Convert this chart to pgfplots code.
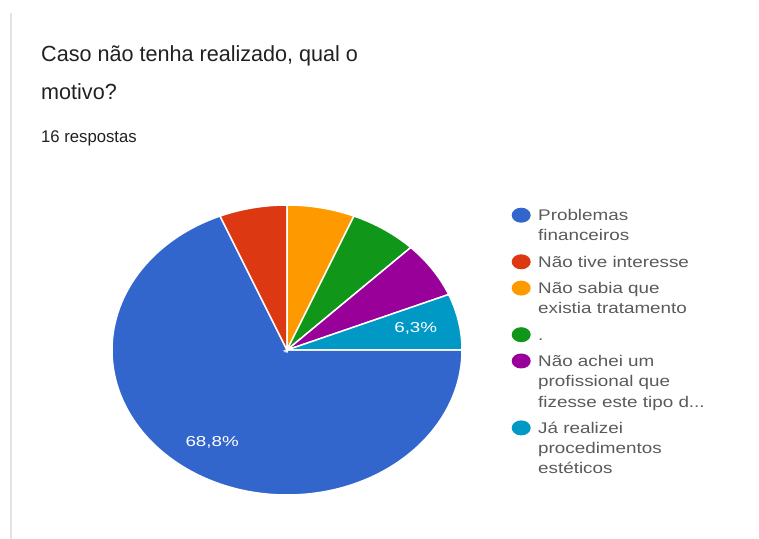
\documentclass[border=0pt]{standalone}
\usepackage{pgfplots}
\pgfplotsset{compat=1.18}
\usepackage{pgfplotstable}
\usepackage{fontspec}
\setmainfont{Liberation Sans}
\newfontfamily\titlefont[FakeStretch=0.985]{Liberation Sans}
\newfontfamily\legfont[FakeStretch=1.22]{Liberation Sans}
\newfontfamily\labfont[FakeStretch=1.3]{Liberation Sans}
\definecolor{pie0}{HTML}{3366CC}
\definecolor{pie1}{HTML}{DC3912}
\definecolor{pie2}{HTML}{FF9900}
\definecolor{pie3}{HTML}{109618}
\definecolor{pie4}{HTML}{990099}
\definecolor{pie5}{HTML}{0099C6}
\definecolor{titlegray}{HTML}{212121}
\definecolor{leggray}{HTML}{5A5A5A}
\definecolor{cardline}{HTML}{E3E3E3}
% first line of a legend entry / continuation line
\newcommand\lfirst[1]{\rule[-6bp]{0pt}{26.3bp}#1}
\newcommand\lnext[1]{\rule[-6bp]{0pt}{20.3bp}#1}
\newcommand\lsym[1]{\tikz[baseline=0pt]\fill[#1] (0bp,5.5bp) ellipse[x radius=9.5bp, y radius=7.5bp];}

% responses per option (16 in total)
\pgfplotstableread{
idx count
0 11
1 1
2 1
3 1
4 1
5 1
}\piedata

\begin{document}
\begin{tikzpicture}
\useasboundingbox (0bp,0bp) rectangle (759bp,539bp);
\fill[cardline] (10bp,0bp) rectangle (12bp,526bp);
\node[anchor=base west, inner sep=0pt, text=titlegray, font=\titlefont\fontsize{22}{26}\selectfont] at (41bp,477bp) {Caso não tenha realizado, qual o};
\node[anchor=base west, inner sep=0pt, text=titlegray, font=\titlefont\fontsize{22}{26}\selectfont] at (41bp,439bp) {motivo?};
\node[anchor=base west, inner sep=0pt, text=titlegray, font=\titlefont\fontsize{17}{20}\selectfont] at (41bp,396bp) {16 respostas};
\begin{axis}[
  x=175bp, y=145bp,
  anchor=origin, at={(287bp,189bp)},
  hide axis, clip=false,
  xmin=-1, xmax=1, ymin=-1, ymax=1,
]
\def\angA{0}
\pgfplotstableforeachcolumnelement{count}\of\piedata\as\val{%
  \pgfmathsetmacro\angB{\angA-\val/16*360}%
  \edef\cmd{\noexpand\fill[pie\pgfplotstablerow, draw=white, line width=1.5bp] (axis cs:0,0) -- (axis cs:{cos(\angA)},{sin(\angA)}) arc[start angle=\angA, end angle=\angB, x radius=175bp, y radius=145bp] -- cycle;}%
  \cmd
  \xdef\angA{\angB}%
}
\node[text=white, font=\labfont\fontsize{14.5}{17}\selectfont] at (axis cs:{0.77*cos(-123.75)},{0.77*sin(-123.75)}) {68,8\%};
\node[text=white, font=\labfont\fontsize{14.5}{17}\selectfont] at (axis cs:{0.75*cos(-348.75)},{0.75*sin(-348.75)}) {6,3\%};
\end{axis}
\node[anchor=base west, inner sep=0pt, text=leggray, font=\legfont\fontsize{15.5}{20}\selectfont] at (511.5bp,318.3bp) {%
\begin{tabular}[t]{@{}c@{\hspace{7.5bp}}l@{}}
\lsym{pie0} & \lfirst{Problemas}\\
 & \lnext{financeiros}\\
\lsym{pie1} & \lfirst{Não tive interesse}\\
\lsym{pie2} & \lfirst{Não sabia que}\\
 & \lnext{existia tratamento}\\
\lsym{pie3} & \lfirst{.}\\
\lsym{pie4} & \lfirst{Não achei um}\\
 & \lnext{profissional que}\\
 & \lnext{fizesse este tipo d...}\\
\lsym{pie5} & \lfirst{Já realizei}\\
 & \lnext{procedimentos}\\
 & \lnext{estéticos}
\end{tabular}};
\end{tikzpicture}
\end{document}
